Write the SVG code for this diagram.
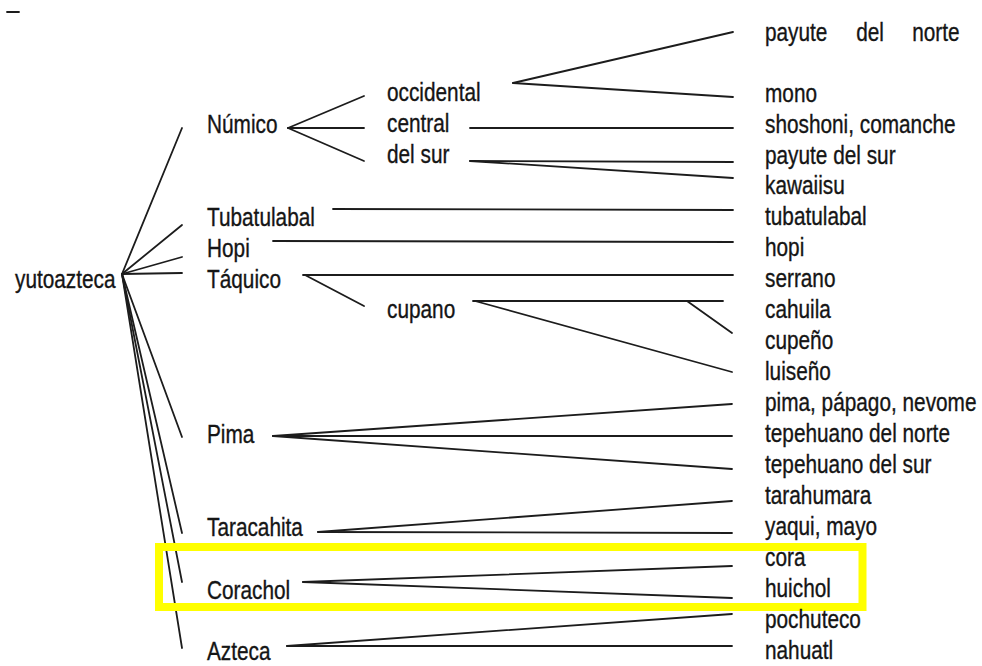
<svg xmlns="http://www.w3.org/2000/svg" width="982" height="666" viewBox="0 0 982 666">
<style>
text{font-family:"Liberation Sans",Arial,sans-serif;font-size:26px;fill:#151515;stroke:#151515;stroke-width:0.35}
#connectors line{stroke:#1c1c1c;stroke-width:1.8;stroke-linecap:round}
</style>
<rect width="982" height="666" fill="#ffffff"/>
<g id="connectors">
<line x1="7" y1="12" x2="19" y2="12"/>
<line x1="122" y1="274" x2="182" y2="128"/>
<line x1="122" y1="274" x2="182" y2="225"/>
<line x1="122" y1="274" x2="182" y2="257"/>
<line x1="122" y1="274" x2="182" y2="273"/>
<line x1="122" y1="274" x2="182" y2="437"/>
<line x1="122" y1="274" x2="182" y2="533"/>
<line x1="122" y1="274" x2="182" y2="582"/>
<line x1="122" y1="274" x2="182" y2="648"/>
<line x1="288" y1="128" x2="364" y2="96"/>
<line x1="288" y1="128" x2="364" y2="128"/>
<line x1="288" y1="128" x2="364" y2="161"/>
<line x1="513" y1="83" x2="733" y2="32"/>
<line x1="513" y1="83" x2="733" y2="97"/>
<line x1="470" y1="128" x2="733" y2="128"/>
<line x1="470" y1="161" x2="733" y2="162"/>
<line x1="470" y1="161" x2="733" y2="178"/>
<line x1="333" y1="209" x2="733" y2="210"/>
<line x1="273" y1="241" x2="733" y2="242"/>
<line x1="303" y1="275" x2="733" y2="275"/>
<line x1="305" y1="275" x2="364" y2="306"/>
<line x1="473" y1="301" x2="723" y2="301"/>
<line x1="687" y1="301" x2="732" y2="333"/>
<line x1="475" y1="301" x2="732" y2="372"/>
<line x1="273" y1="436" x2="732" y2="404"/>
<line x1="273" y1="436" x2="732" y2="436"/>
<line x1="273" y1="436" x2="732" y2="469"/>
<line x1="318" y1="532" x2="732" y2="501"/>
<line x1="318" y1="532" x2="732" y2="533"/>
<line x1="303" y1="582" x2="732" y2="566"/>
<line x1="303" y1="582" x2="732" y2="598"/>
<line x1="287" y1="646" x2="732" y2="614"/>
<line x1="287" y1="646" x2="732" y2="646"/>
</g>
<g id="highlight"><rect x="159" y="547" width="703.5" height="60" fill="none" stroke="#ffff00" stroke-width="8"/></g>
<g id="yutoazteca"><text transform="matrix(0.8 0 0 1 15 288)">yutoazteca</text></g>
<g id="numico"><text transform="matrix(0.8 0 0 1 207 133)">Númico</text></g>
<g id="tubatulabal-g"><text transform="matrix(0.8 0 0 1 207 226)">Tubatulabal</text></g>
<g id="hopi-g"><text transform="matrix(0.8 0 0 1 207 257)">Hopi</text></g>
<g id="taquico"><text transform="matrix(0.8 0 0 1 207 288)">Táquico</text></g>
<g id="pima-g"><text transform="matrix(0.8 0 0 1 207 443)">Pima</text></g>
<g id="taracahita"><text transform="matrix(0.8 0 0 1 207 536)">Taracahita</text></g>
<g id="corachol"><text transform="matrix(0.8 0 0 1 207 599)">Corachol</text></g>
<g id="azteca"><text transform="matrix(0.8 0 0 1 207 660)">Azteca</text></g>
<g id="occidental"><text transform="matrix(0.8 0 0 1 387 101)">occidental</text></g>
<g id="central"><text transform="matrix(0.8 0 0 1 387 132)">central</text></g>
<g id="delsur"><text transform="matrix(0.8 0 0 1 387 163)">del sur</text></g>
<g id="cupano"><text transform="matrix(0.8 0 0 1 387 318)">cupano</text></g>
<g id="payute-norte"><text transform="matrix(0.8 0 0 1 765 41)"><tspan x="0">payute</tspan><tspan x="114">del</tspan><tspan x="184">norte</tspan></text></g>
<g id="mono"><text transform="matrix(0.8 0 0 1 765 102)">mono</text></g>
<g id="shoshoni"><text transform="matrix(0.8 0 0 1 765 133)">shoshoni, comanche</text></g>
<g id="payute-sur"><text transform="matrix(0.8 0 0 1 765 164)">payute del sur</text></g>
<g id="kawaiisu"><text transform="matrix(0.8 0 0 1 765 194)">kawaiisu</text></g>
<g id="tubatulabal"><text transform="matrix(0.8 0 0 1 765 225)">tubatulabal</text></g>
<g id="hopi"><text transform="matrix(0.8 0 0 1 765 256)">hopi</text></g>
<g id="serrano"><text transform="matrix(0.8 0 0 1 765 287)">serrano</text></g>
<g id="cahuila"><text transform="matrix(0.8 0 0 1 765 318)">cahuila</text></g>
<g id="cupeno"><text transform="matrix(0.8 0 0 1 765 349)">cupeño</text></g>
<g id="luiseno"><text transform="matrix(0.8 0 0 1 765 380)">luiseño</text></g>
<g id="pima"><text transform="matrix(0.8 0 0 1 765 411)">pima, pápago, nevome</text></g>
<g id="tep-norte"><text transform="matrix(0.8 0 0 1 765 442)">tepehuano del norte</text></g>
<g id="tep-sur"><text transform="matrix(0.8 0 0 1 765 473)">tepehuano del sur</text></g>
<g id="tarahumara"><text transform="matrix(0.8 0 0 1 765 504)">tarahumara</text></g>
<g id="yaqui"><text transform="matrix(0.8 0 0 1 765 535)">yaqui, mayo</text></g>
<g id="cora"><text transform="matrix(0.8 0 0 1 765 566)">cora</text></g>
<g id="huichol"><text transform="matrix(0.8 0 0 1 765 597)">huichol</text></g>
<g id="pochuteco"><text transform="matrix(0.8 0 0 1 765 628)">pochuteco</text></g>
<g id="nahuatl"><text transform="matrix(0.8 0 0 1 765 659)">nahuatl</text></g>
</svg>
